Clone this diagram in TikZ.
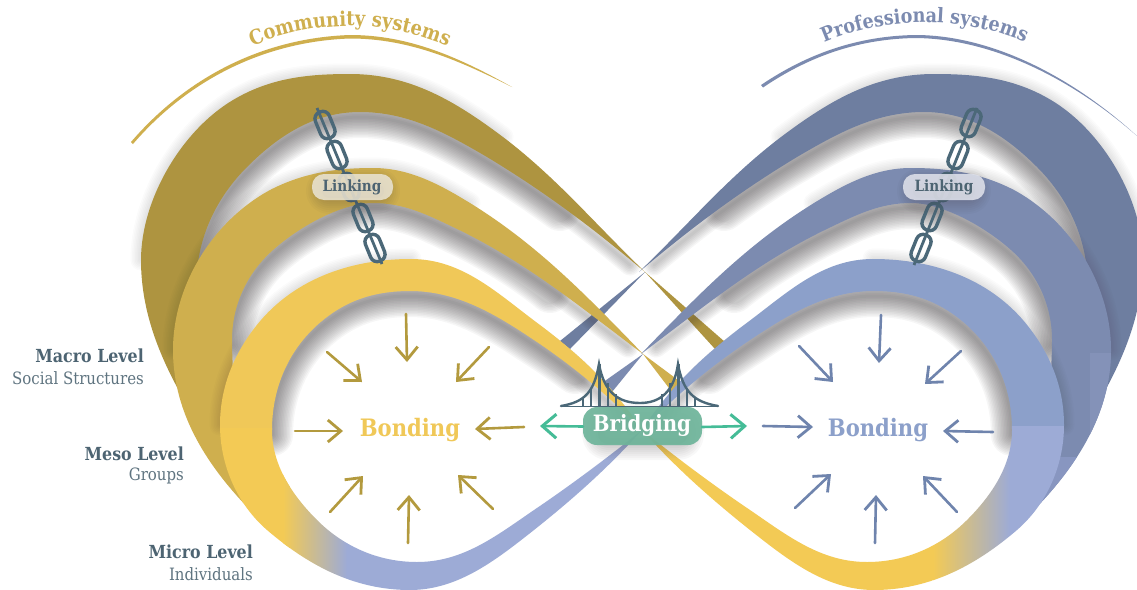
\documentclass[tikz,border=0pt]{standalone}
\usepackage{fontspec}
\usetikzlibrary{arrows.meta,decorations.text}
\newfontfamily\slab[FakeStretch=0.88]{DejaVu Serif}
\definecolor{goldA}{HTML}{AE9440}
\definecolor{goldB}{HTML}{CFAF4E}
\definecolor{goldC}{HTML}{F0C858}
\definecolor{goldD}{HTML}{F3CA55}
\definecolor{blueA}{HTML}{6E7EA0}
\definecolor{blueB}{HTML}{7C8BB0}
\definecolor{blueC}{HTML}{8CA0CA}
\definecolor{blueD}{HTML}{8492B8}
\definecolor{blueE}{HTML}{8896C0}
\definecolor{lav}{HTML}{9DABD6}
\definecolor{slateT}{HTML}{4D6472}
\definecolor{chainC}{HTML}{4B6878}
\definecolor{arrowG}{HTML}{B39A3E}
\definecolor{arrowB}{HTML}{6F84AD}
\definecolor{greenA}{HTML}{45BC97}
\definecolor{greenB}{HTML}{6FB59B}
\definecolor{pillA}{HTML}{E9E3D2}
\definecolor{pillB}{HTML}{DFE1EA}
\definecolor{shadowC}{HTML}{3A3438}
% ---- edges of the ribbons, left-hand versions (right-hand ones are mirror images)
\def\macroOut{(190,410) .. controls (162,363) and (141,315) .. (141,260) .. controls (141,200) and (181,131) .. (233,100) .. controls (270,78) and (307,74) .. (350,74) .. controls (410,74) and (455,101) .. (503,137) .. controls (557,178) and (596,225) .. (645,272)}
\def\macroIn{.. controls (593,228) and (545,192) .. (487,157) .. controls (446,133) and (408,112) .. (360,112) .. controls (315,112) and (279,135) .. (247,167) .. controls (219,195) and (201,230) .. (197,270) .. controls (193,320) and (200,380) .. (210,420)}
\def\macroShadeCore{(630,260) .. controls (590,226) and (545,192) .. (487,157) .. controls (446,133) and (408,112) .. (360,112) .. controls (315,112) and (279,135) .. (247,167) .. controls (219,195) and (201,230) .. (197,270)}
\def\macroShadeWide{(560,205) .. controls (530,183) and (510,170) .. (487,157) .. controls (446,133) and (408,112) .. (360,112) .. controls (315,112) and (279,135) .. (247,167) .. controls (219,195) and (201,230) .. (197,270)}
\def\macroHalo{(141,260) .. controls (141,200) and (181,131) .. (233,100) .. controls (270,78) and (307,74) .. (350,74) .. controls (410,74) and (455,101) .. (503,137)}
\def\mesoOut{(255,515) .. controls (209,469) and (173,415) .. (173,350) .. controls (173,285) and (213,221) .. (270,190) .. controls (303,173) and (336,168) .. (373,168) .. controls (409,168) and (439,184) .. (470,203) .. controls (538,245) and (587,296) .. (643,354)}
\def\mesoIn{.. controls (579,306) and (525,261) .. (453,227) .. controls (426,214) and (403,203) .. (373,203) .. controls (343,203) and (301,225) .. (273,250) .. controls (247,273) and (232,305) .. (232,340) .. controls (232,400) and (245,460) .. (260,500)}
\def\mesoShadeCore{(628,342) .. controls (585,310) and (525,261) .. (453,227) .. controls (426,214) and (403,203) .. (373,203) .. controls (343,203) and (301,225) .. (273,250) .. controls (247,273) and (232,305) .. (232,340)}
\def\mesoShadeWide{(550,287) .. controls (525,266) and (485,242) .. (453,227) .. controls (426,214) and (403,203) .. (373,203) .. controls (343,203) and (301,225) .. (273,250) .. controls (247,273) and (232,305) .. (232,340)}
\def\mesoHalo{(173,350) .. controls (173,285) and (213,221) .. (270,190) .. controls (303,173) and (336,168) .. (373,168) .. controls (409,168) and (439,184) .. (470,203)}
\def\microTop{(642,430) .. controls (615,389) and (585,359) .. (540,325) .. controls (498,294) and (463,259) .. (411,259) .. controls (349,259) and (290,280) .. (253,330) .. controls (232,358) and (220,390) .. (220,425)}
\def\microBot{.. controls (220,465) and (237,504) .. (267,530) .. controls (309,566) and (355,590) .. (410,590) .. controls (458,590) and (496,560) .. (534,530) .. controls (573,499) and (609,467) .. (642,430)}
\def\microIn{.. controls (607,458) and (571,485) .. (534,510) .. controls (496,536) and (463,562) .. (417,562) .. controls (379,562) and (344,547) .. (317,520) .. controls (292,495) and (272,465) .. (272,430) .. controls (272,385) and (291,344) .. (327,317) .. controls (352,298) and (379,291) .. (410,291) .. controls (457,291) and (495,314) .. (534,340) .. controls (573,366) and (609,396) .. (642,430)}
\def\microShadeCore{(632,420) .. controls (605,393) and (573,366) .. (534,340) .. controls (495,314) and (457,291) .. (410,291) .. controls (379,291) and (352,298) .. (327,317) .. controls (291,344) and (272,385) .. (272,430)}
\def\microShadeWide{(575,368) .. controls (560,357) and (547,348) .. (534,340) .. controls (495,314) and (457,291) .. (410,291) .. controls (379,291) and (352,298) .. (327,317) .. controls (291,344) and (272,385) .. (272,430)}
\def\microHalo{(220,425) .. controls (220,390) and (232,358) .. (253,330) .. controls (290,280) and (349,259) .. (411,259)}
\edef\macroBand{\macroOut\space\macroIn -- cycle}
\edef\mesoBand{\mesoOut\space\mesoIn -- cycle}
\edef\microBand{\microTop\space\microBot\space\microIn -- cycle}
% a cast shadow stays on the side of a ribbon that faces the loop, and narrows towards the crossing
\edef\macroRoom{\macroOut -- (645,700) -- (100,700) -- cycle}
\edef\mesoRoom{\mesoOut -- (643,700) -- (100,700) -- cycle}
\edef\microRoom{\microTop -- (220,700) -- (642,700) -- cycle}
\newcommand\castshade[3]{\begin{scope}\clip #1;
  \foreach \w in {3,6,...,21}{\draw[line width=\w pt,draw=shadowC,opacity=.042,line cap=round,line join=round,shift={(0,5)}] #2;}
  \foreach \w in {24,27,...,42}{\draw[line width=\w pt,draw=shadowC,opacity=.042,line cap=round,line join=round,shift={(0,5)}] #3;}
  \end{scope}}
\newcommand\softhalo[1]{\foreach \w in {3,6,...,21}{\draw[line width=\w pt,draw=shadowC,opacity=.02,line cap=round,line join=round] #1;}}
\newcommand\pillglow[4]{\foreach \w in {4,8,...,32}{\draw[line width=\w pt,draw=shadowC,fill=shadowC,opacity=#4,rounded corners=#3pt,line join=round] #1 rectangle #2;}}
\tikzset{
  mirrored/.style={shift={(1284,0)},xscale=-1},
  chainlink/.style={draw=chainC,line width=3.4pt,rounded corners=7pt},
  chainrod/.style={draw=chainC,line width=2.8pt},
  gbarb/.style={draw=arrowG,line width=2.6pt,line cap=round,-{Straight Barb[length=13pt,width=22pt,line width=2.8pt]}},
  bbarb/.style={draw=arrowB,line width=2.6pt,line cap=round,-{Straight Barb[length=13pt,width=22pt,line width=2.8pt]}},
  grbarb/.style={draw=greenA,line width=2.6pt,line cap=round,-{Straight Barb[length=14pt,width=24pt,line width=3pt]}},
  lvlbold/.style={text=slateT,anchor=east,inner sep=0pt,font=\slab\bfseries\fontsize{18}{20}\selectfont},
  lvlthin/.style={text=slateT!90,anchor=east,inner sep=0pt,font=\slab\fontsize{17}{18}\selectfont},
  bondlabel/.style={inner sep=0pt,font=\slab\bfseries\fontsize{24}{28}\selectfont},
  linklabel/.style={text=slateT,inner sep=0pt,font=\slab\bfseries\fontsize{15.5}{18}\selectfont},
}
\newcommand\sketcharrow[4]{\coordinate (#1s) at (#2);\coordinate (#1e) at (#3);\draw[#4] (#1s) -- (#1e);}
\begin{document}
\begin{tikzpicture}[x=1pt,y=-1pt]
\useasboundingbox (0,0) rectangle (1137,589);
\fill[white] (0,0) rectangle (1137,589);
\begin{scope}
\clip (0,0) rectangle (1137,589);
% ---------- macro
\softhalo{\macroHalo}
\begin{scope}[mirrored]\softhalo{\macroHalo}\end{scope}
\castshade{\macroRoom}{\macroShadeCore}{\macroShadeWide}
\begin{scope}[mirrored]\castshade{\macroRoom}{\macroShadeCore}{\macroShadeWide}\end{scope}
\fill[goldA] (645,272) -- (725,342) -- (715,349) -- cycle;
\fill[blueA] (645,272) -- (560,341) -- (570,349) -- cycle;
\fill[goldA] \macroBand;
\begin{scope}[mirrored]\fill[blueA] \macroBand;\end{scope}
% ---------- meso
\softhalo{\mesoHalo}
\begin{scope}[mirrored]\softhalo{\mesoHalo}\end{scope}
\castshade{\mesoRoom}{\mesoShadeCore}{\mesoShadeWide}
\begin{scope}[mirrored]\castshade{\mesoRoom}{\mesoShadeCore}{\mesoShadeWide}\end{scope}
\fill[goldB] (643,354) -- (682,383) -- (672,392) -- cycle;
\fill[blueB] (643,354) -- (602,383) -- (612,392) -- cycle;
\fill[goldB] \mesoBand;
\begin{scope}[mirrored]
\begin{scope}
\clip \mesoBand;
\fill[blueB] (0,0) rectangle (700,600);
\fill[blueD] (0,353) rectangle (194,600);
\fill[blueE] (0,457) rectangle (300,600);
\end{scope}
\end{scope}
% ---------- micro
\softhalo{\microHalo}
\begin{scope}[mirrored]\softhalo{\microHalo}\end{scope}
\castshade{\microRoom}{\microShadeCore}{\microShadeWide}
\begin{scope}[mirrored]\castshade{\microRoom}{\microShadeCore}{\microShadeWide}\end{scope}
\begin{scope}
\clip \microBand;
\fill[goldC] (0,0) rectangle (700,430);
\fill[goldD] (0,428) rectangle (290,600);
\shade[left color=goldD,right color=lav] (283,435) rectangle (347,600);
\fill[lav] (347,430) rectangle (700,600);
\end{scope}
\begin{scope}[mirrored]
\clip \microBand;
\fill[blueC] (0,0) rectangle (700,430);
\fill[lav] (0,426) rectangle (274,600);
\shade[left color=goldD,right color=lav] (274,435) rectangle (351,600);
\fill[goldD] (351,430) rectangle (700,600);
\end{scope}
\end{scope}
% ---------- sketched arcs
\fill[goldB] (131,142) .. controls (186,78) and (262,38) .. (350,35) .. controls (410,35) and (460,58) .. (512,87) .. controls (460,61) and (410,38.5) .. (350,38.5) .. controls (264,41.5) and (188,80) .. (133,144) -- cycle;
\fill[blueB] (761,85) .. controls (810,52) and (860,36) .. (915,35) .. controls (990,35) and (1070,75) .. (1137,136) .. controls (1070,77) and (990,38.5) .. (915,38) .. controls (860,39) and (811,55) .. (763,87.5) -- cycle;
% ---------- curved titles
\path[decorate,decoration={text along path,text align=center,text color=goldB,
  text={|\slab\bfseries\fontsize{20.3}{24}\selectfont|Community systems}}]
  (244,50) .. controls (310,18) and (390,18) .. (456,50);
\path[decorate,decoration={text along path,text align=center,text color=blueB,
  text={|\slab\bfseries\fontsize{20}{24}\selectfont|Professional systems}}]
  (817,46) .. controls (880,15) and (970,15) .. (1032,46);
% ---------- chains
\coordinate (lc1) at (317,108); \coordinate (lc2) at (382,264);
\draw[chainrod] (lc1) -- (lc2);
\foreach \px/\py in {325/125,337/155,349/187,363/218,375/248}{
  \draw[chainlink,shift={(\px,\py)},rotate=22] (-7.5,-14) rectangle (7.5,14);}
\coordinate (rc1) at (977,108); \coordinate (rc2) at (914,265);
\draw[chainrod] (rc1) -- (rc2);
\foreach \px/\py in {971/123,958/155,945/187,932/217,921/248}{
  \draw[chainlink,shift={(\px,\py)},rotate=-22] (-7.5,-14) rectangle (7.5,14);}
% ---------- linking pills
\pillglow{(322,184)}{(384,198)}{7}{.03}
\fill[pillA,opacity=.88,rounded corners=12pt] (312,174) rectangle (393,200);
\node[linklabel] (linkL) at (352,187) {Linking};
\pillglow{(913,184)}{(975,198)}{7}{.03}
\fill[pillB,opacity=.88,rounded corners=12pt] (903,174) rectangle (985,200);
\node[linklabel] (linkR) at (944,187) {Linking};
% ---------- inward arrows
\sketcharrow{g1}{406,314}{407,362}{gbarb}
\sketcharrow{g2}{327,352}{362,382}{gbarb}
\sketcharrow{g3}{489,347}{456,382}{gbarb}
\sketcharrow{g4}{295,431}{343,431}{gbarb}
\sketcharrow{g5}{524,427}{475,429}{gbarb}
\sketcharrow{g6}{330,512}{363,476}{gbarb}
\sketcharrow{g7}{493,509}{458,475}{gbarb}
\sketcharrow{g8}{408,543}{409,495}{gbarb}
\sketcharrow{b1}{881,315}{879,363}{bbarb}
\sketcharrow{b2}{799,346}{833,382}{bbarb}
\sketcharrow{b3}{961,351}{925,384}{bbarb}
\sketcharrow{b4}{763,426}{813,427}{bbarb}
\sketcharrow{b5}{993,432}{943,431}{bbarb}
\sketcharrow{b6}{795,508}{831,474}{bbarb}
\sketcharrow{b7}{957,512}{923,476}{bbarb}
\sketcharrow{b8}{875,543}{876,495}{bbarb}
\node[bondlabel,text=goldC] (bondL) at (410,430) {Bonding};
\node[bondlabel,text=blueC] (bondR) at (878,430) {Bonding};
% ---------- bridge
\coordinate (deckL) at (561,406.5); \coordinate (deckR) at (718,406.5);
\draw[draw=chainC,line width=1.3pt] (deckL) -- (deckR);
\foreach \hx/\hy in {583/397,591/388,599/364,608/383,616/394,662/394,670/383,678/364,687/388,695/397}{
  \draw[draw=chainC,line width=1.2pt] (\hx,\hy) -- (\hx,406);}
\draw[draw=chainC,line width=3pt] (599,364) -- (599,406) (678,364) -- (678,406);
\draw[draw=chainC,line width=2.4pt,line cap=round] (561,406) .. controls (585,402) and (594,392) .. (599,364)
  .. controls (604,392) and (618,403) .. (640,403) .. controls (660,403) and (674,392) .. (678,364)
  .. controls (683,392) and (694,402) .. (718,406);
% ---------- bridging
\pillglow{(598,420)}{(688,444)}{10}{.03}
\fill[greenB,opacity=.93,rounded corners=14pt] (583,407) rectangle (702,445);
\node[inner sep=0pt,text=white,font=\slab\bfseries\fontsize{22.5}{26}\selectfont] (bridging) at (642,425) {Bridging};
\coordinate (brL) at (540,426); \coordinate (brR) at (747,426);
\draw[grbarb] (583,426.5) -- (brL);
\draw[grbarb] (702,427) -- (brR);
% ---------- level labels
\node[lvlbold] (macroA) at (144,355.5) {Macro Level};
\node[lvlthin] (macroB) at (144,378) {Social Structures};
\node[lvlbold] (mesoA) at (184,454) {Meso Level};
\node[lvlthin] (mesoB) at (184,476) {Groups};
\node[lvlbold] (microA) at (253,552) {Micro Level};
\node[lvlthin] (microB) at (253,574) {Individuals};
\end{tikzpicture}
\end{document}
